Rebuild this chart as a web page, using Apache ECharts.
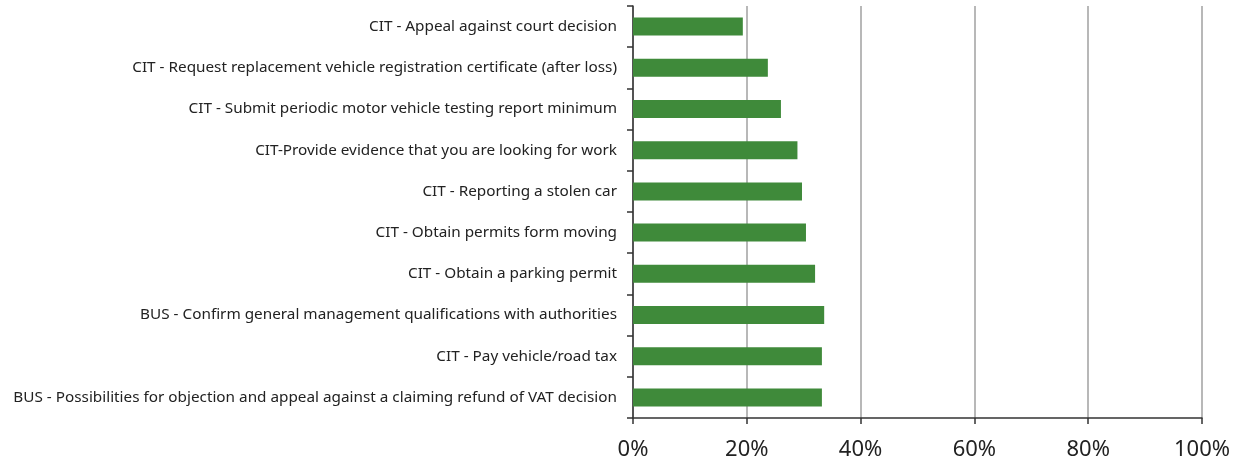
<!DOCTYPE html>
<html>
<head>
<meta charset="utf-8">
<script src="https://cdn.jsdelivr.net/npm/echarts@6/dist/echarts.min.js"></script>
<style>
  html, body { margin: 0; padding: 0; background: #fff; }
  #chart { width: 1244px; height: 463px; }
</style>
</head>
<body>
<div id="chart"></div>
<script>
// services, top to bottom
const categories = [
  'CIT - Appeal against court decision',
  'CIT - Request replacement vehicle registration certificate (after loss)',
  'CIT - Submit periodic motor vehicle testing report minimum',
  'CIT-Provide evidence that you are looking for work',
  'CIT - Reporting a stolen car',
  'CIT - Obtain permits form moving',
  'CIT - Obtain a parking permit',
  'BUS - Confirm general management qualifications with authorities',
  'CIT - Pay vehicle/road tax',
  'BUS - Possibilities for objection and appeal against a claiming refund of VAT decision'
]
// share in percent
const values = [19.3, 23.7, 26.0, 28.9, 29.7, 30.4, 32.0, 33.6, 33.2, 33.2]
const xTicks = [0, 20, 40, 60, 80, 100]

const chart = echarts.init(document.getElementById('chart'))
chart.setOption({
  animation: false,
  grid: { left: 633, right: 42, top: 6, bottom: 45 },
  xAxis: {
    type: 'value',
    min: xTicks[0],
    max: xTicks[xTicks.length - 1],
    interval: 20,
    axisLine: { show: true, lineStyle: { color: '#333', width: 1.5 } },
    axisTick: { show: true, length: 6, lineStyle: { color: '#333', width: 1.5 } },
    axisLabel: {
      formatter: '{value}%',
      fontSize: 22,
      color: '#222',
      margin: 21,
      fontFamily: 'Noto Sans'
    },
    splitLine: { show: true, lineStyle: { color: '#a0a0a0', width: 1.5 } }
  },
  yAxis: {
    type: 'category',
    inverse: true,
    data: categories,
    axisLine: { show: true, lineStyle: { color: '#333', width: 1.5 } },
    axisTick: { show: true, length: 6, lineStyle: { color: '#333', width: 1.5 } },
    axisLabel: {
      fontSize: 15.3,
      color: '#222',
      margin: 16,
      padding: [5, 0, 0, 0],
      fontFamily: 'Noto Sans'
    }
  },
  series: [{
    type: 'bar',
    data: values,
    barWidth: 18,
    itemStyle: { color: '#3f8a3a' }
  }]
})
</script>
</body>
</html>
